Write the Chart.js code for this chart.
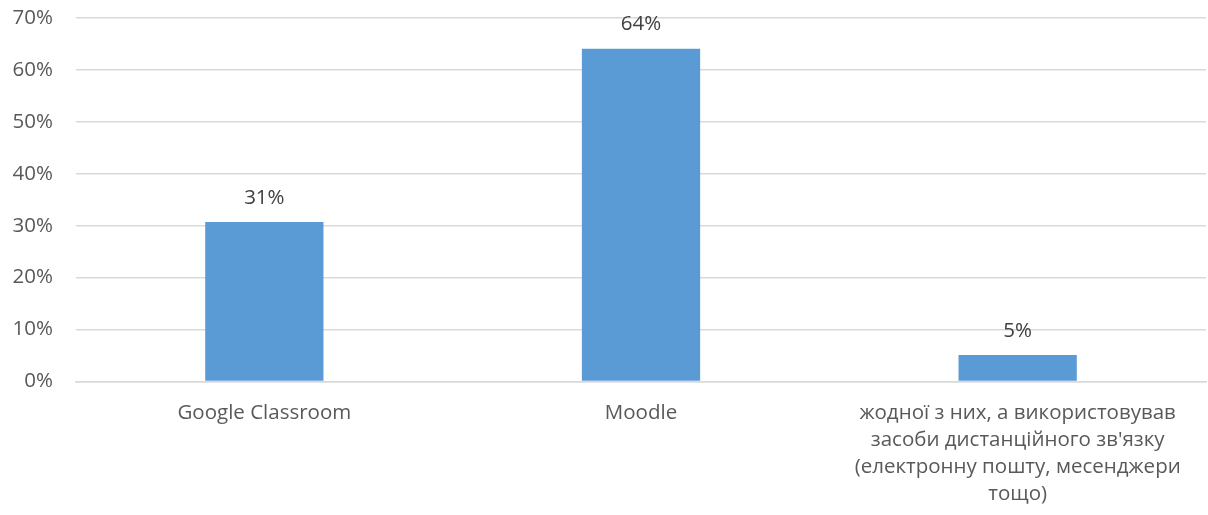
<!DOCTYPE html>
<html>
<head>
<meta charset="utf-8">
<script src="https://cdn.jsdelivr.net/npm/chart.js@4/dist/chart.umd.min.js"></script>
<style>
  html, body { margin: 0; padding: 0; background: #fff; }
  #wrap { width: 1208px; height: 515px; position: relative; }
</style>
</head>
<body>
<div id="wrap"><canvas id="c"></canvas></div>
<script>
const categories = [
  "Google Classroom",
  "Moodle",
  ["жодної з них, а використовував", "засоби дистанційного зв'язку", "(електронну пошту, месенджери", "тощо)"]
];
const values = [30.7, 64.1, 5.1];
const valueLabels = ["31%", "64%", "5%"];
const yTicks = [0, 10, 20, 30, 40, 50, 60, 70];

const FONT = "'Open Sans', 'Segoe UI', sans-serif";
const TEXT = "#595959";

const labelPlugin = {
  id: 'valueLabels',
  afterDatasetsDraw(chart) {
    const ctx = chart.ctx;
    const meta = chart.getDatasetMeta(0);
    ctx.save();
    ctx.font = "20.5px " + FONT;
    ctx.fillStyle = "#404040";
    ctx.textAlign = "center";
    ctx.textBaseline = "middle";
    meta.data.forEach((bar, i) => {
      ctx.fillText(valueLabels[i], bar.x, bar.y - 24);
    });
    ctx.restore();
  }
};

new Chart(document.getElementById('c'), {
  type: 'bar',
  data: {
    labels: categories,
    datasets: [{
      data: values,
      backgroundColor: '#5b9bd5',
      borderWidth: 0,
      categoryPercentage: 1,
      barPercentage: 0.314
    }]
  },
  options: {
    responsive: true,
    maintainAspectRatio: false,
    animation: false,
    devicePixelRatio: 1,
    layout: { padding: { top: 18, right: 2, left: 0, bottom: 0 } },
    plugins: { legend: { display: false }, tooltip: { enabled: false } },
    scales: {
      x: {
        grid: { display: false, drawTicks: false },
        border: { display: true, color: '#d9d9d9', width: 1.5 },
        ticks: {
          color: TEXT,
          font: { family: FONT, size: 20.5, lineHeight: 1.32 },
          padding: 18,
          maxRotation: 0,
          autoSkip: false
        },
        afterFit(scale) { scale.height = 133.5; scale.paddingLeft = 0; scale.paddingRight = 0; }
      },
      y: {
        min: 0, max: 70,
        afterBuildTicks(scale) { scale.ticks = yTicks.map(v => ({ value: v })); },
        grid: { color: '#d9d9d9', lineWidth: 1.5, drawTicks: false },
        border: { display: false },
        ticks: {
          color: TEXT,
          font: { family: FONT, size: 20.5 },
          padding: 23,
          callback: v => v + '%'
        },
        afterFit(scale) { scale.width = 76; scale.paddingTop = 0; scale.paddingBottom = 0; }
      }
    }
  },
  plugins: [labelPlugin]
});
</script>
</body>
</html>
